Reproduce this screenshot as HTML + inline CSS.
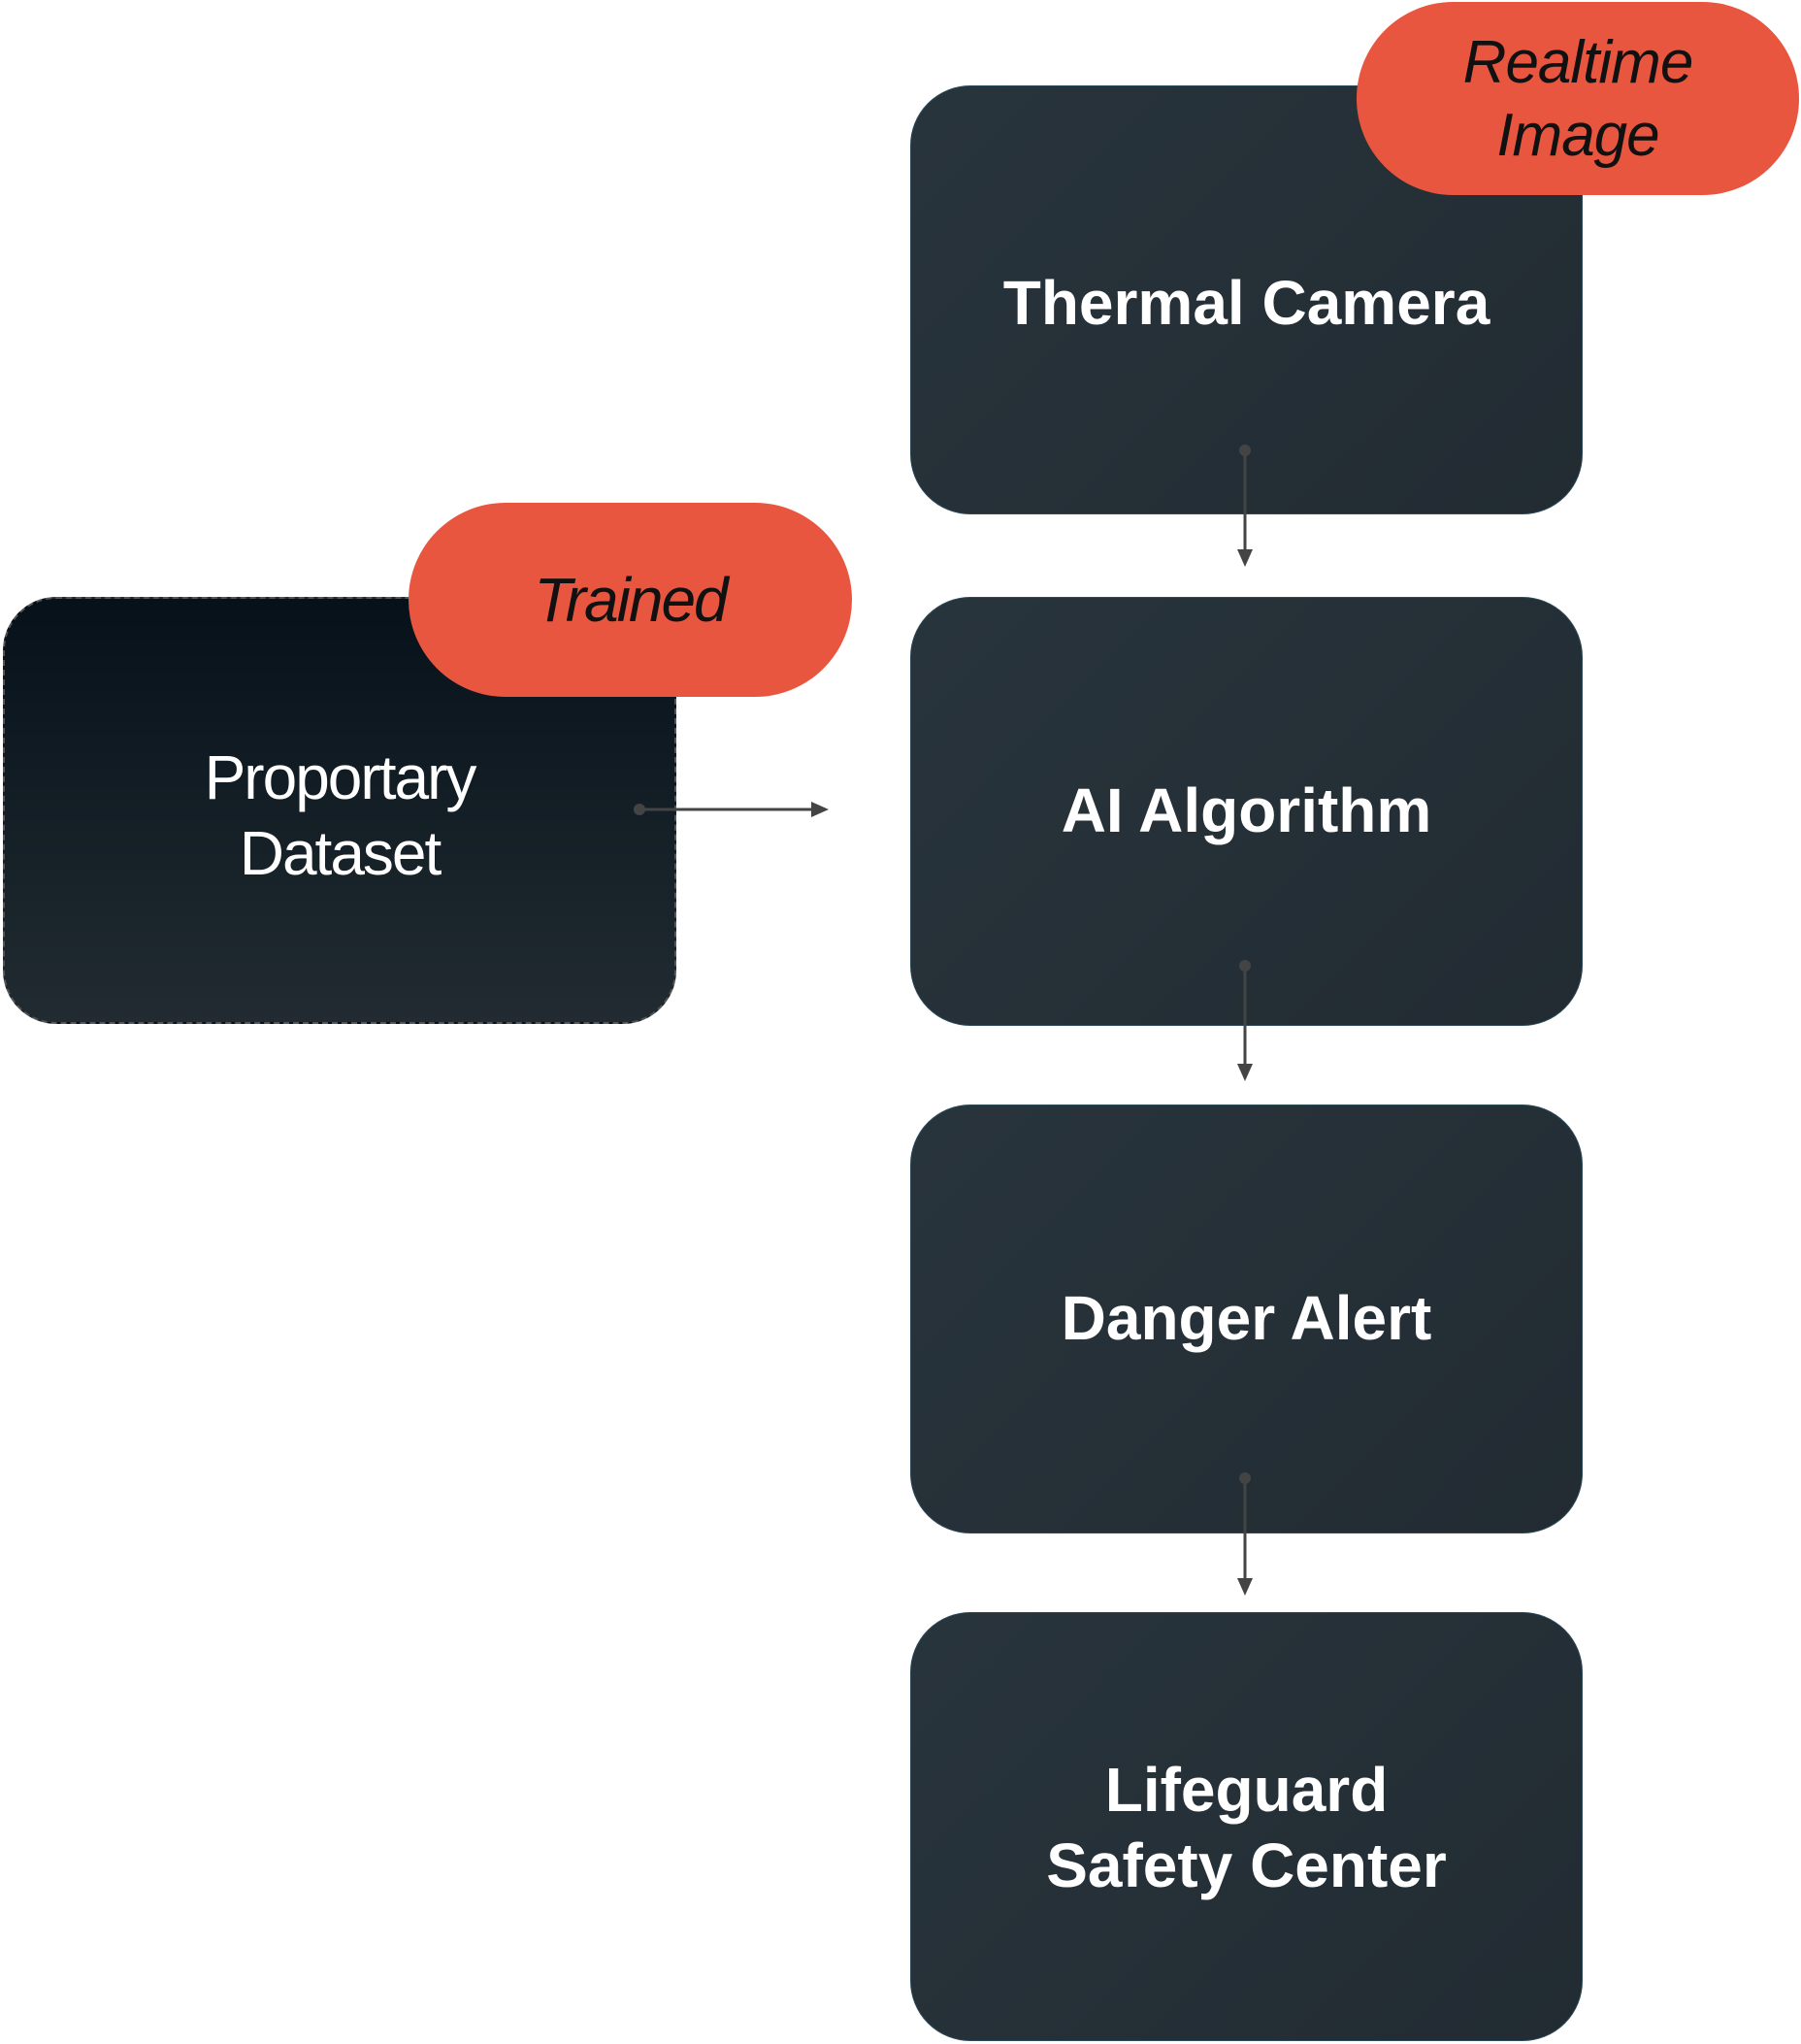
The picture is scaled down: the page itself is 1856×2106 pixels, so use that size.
<!DOCTYPE html>
<html><head><style>
html,body{margin:0;padding:0;background:#fff;}
body{width:1856px;height:2106px;position:relative;overflow:hidden;font-family:"Liberation Sans",sans-serif;}
.box{position:absolute;left:938px;width:693px;height:442px;border-radius:62px;background:linear-gradient(135deg,#28343c,#222b32);box-sizing:border-box;border:1.5px solid #2b4a5a;}
.t{position:absolute;left:938px;width:693px;text-align:center;color:#fff;font-weight:bold;font-size:64px;line-height:78px;}
.pill{position:absolute;background:#e9563f;border-radius:100px;}
.it{position:absolute;text-align:center;font-style:italic;color:#111;font-size:62px;line-height:75px;}
</style></head><body>
<div class="box" style="top:88px"></div>
<div class="box" style="top:615px"></div>
<div class="box" style="top:1138px"></div>
<div class="box" style="top:1661px"></div>
<div class="t" style="top:273px">Thermal Camera</div>
<div class="t" style="top:796px">AI Algorithm</div>
<div class="t" style="top:1319px">Danger Alert</div>
<div class="t" style="top:1805px">Lifeguard<br>Safety Center</div>

<div style="position:absolute;left:3px;top:615px;width:694px;height:440px;border-radius:55px;background:linear-gradient(180deg,#06111a,#212b31);border:2px dashed #555;box-sizing:border-box;"></div>
<div style="position:absolute;left:0px;width:700px;top:762px;text-align:center;color:#fff;font-size:64px;line-height:78px;font-weight:300;letter-spacing:-2px;">Proportary<br>Dataset</div>

<div class="pill" style="left:421px;top:518px;width:457px;height:200px;"></div>
<div class="it" style="left:421px;width:457px;top:581px;font-size:64px;letter-spacing:-2px;">Trained</div>
<div class="pill" style="left:1398px;top:2px;width:456px;height:199px;"></div>
<div class="it" style="left:1398px;width:456px;top:27px;letter-spacing:-1px;">Realtime<br>Image</div>

<svg width="1856" height="2106" style="position:absolute;left:0;top:0">
<g fill="#444" stroke="#444" stroke-width="3">
<circle cx="1283" cy="464" r="6" stroke="none"/><line x1="1283" y1="464" x2="1283" y2="570"/><polygon points="1275,566 1291,566 1283,584" stroke="none"/>
<circle cx="1283" cy="995" r="6" stroke="none"/><line x1="1283" y1="995" x2="1283" y2="1100"/><polygon points="1275,1096 1291,1096 1283,1114" stroke="none"/>
<circle cx="1283" cy="1523" r="6" stroke="none"/><line x1="1283" y1="1523" x2="1283" y2="1630"/><polygon points="1275,1626 1291,1626 1283,1644" stroke="none"/>
<circle cx="659" cy="834" r="6" stroke="none"/><line x1="659" y1="834" x2="840" y2="834"/><polygon points="836,826 836,842 854,834" stroke="none"/>
</g></svg>
</body></html>
